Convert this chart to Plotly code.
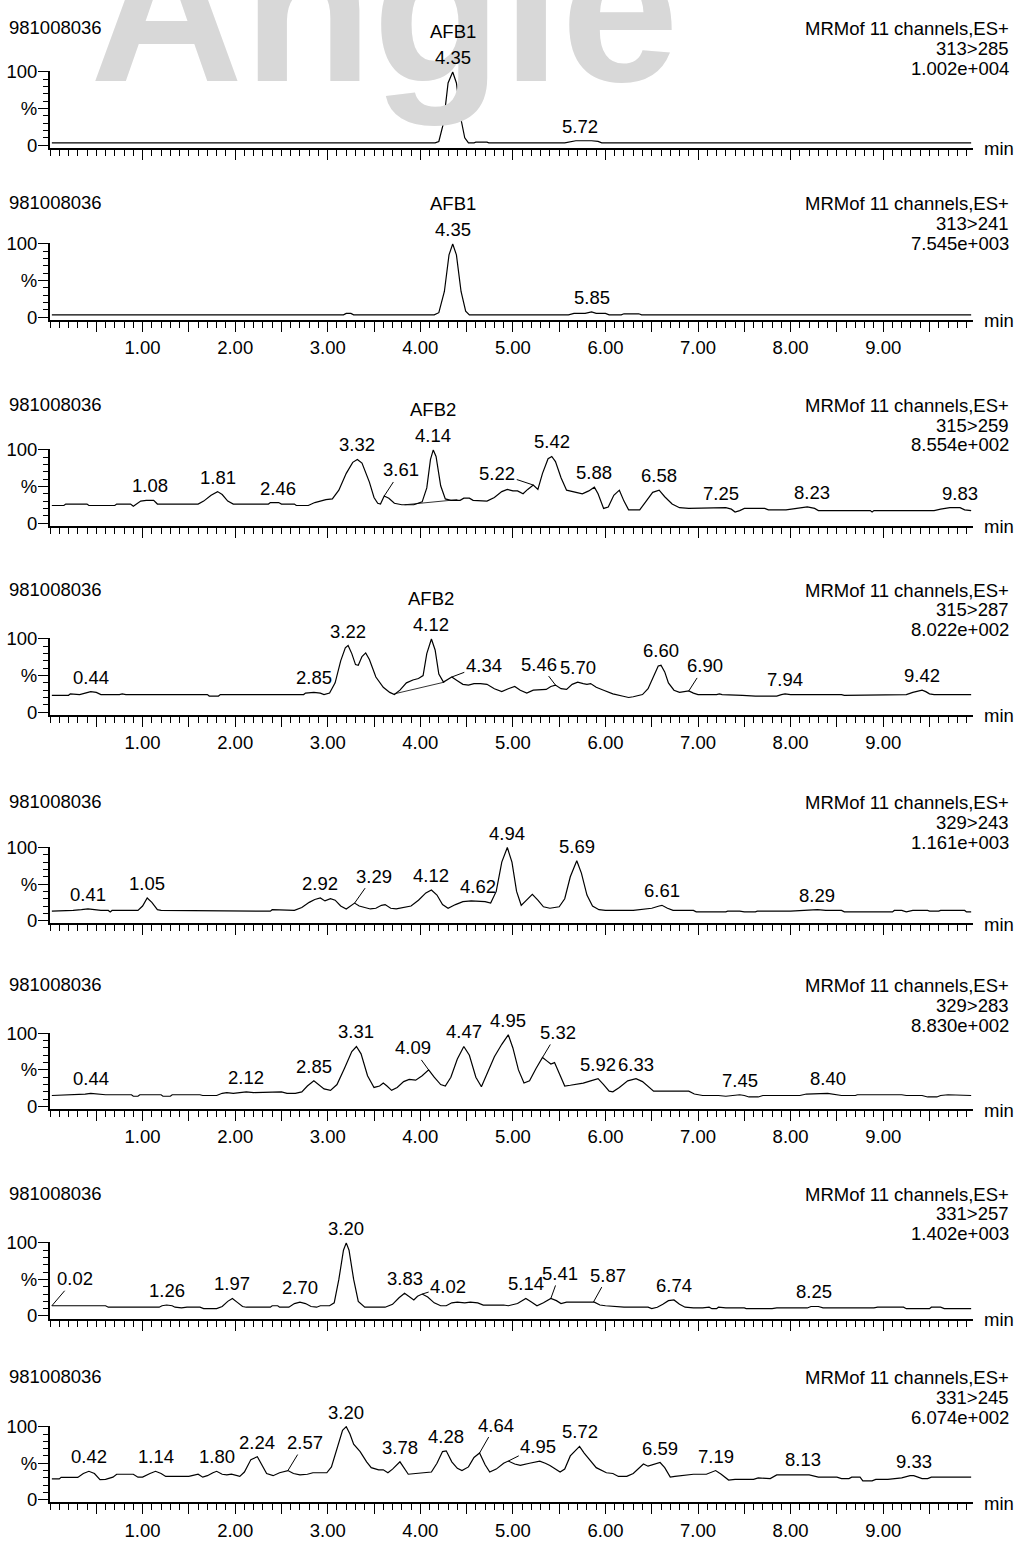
import plotly.graph_objects as go

W, H = 1019, 1543
FONT = "Liberation Sans, Arial, sans-serif"
FS = 18.5

# ---------------- data ----------------
sample_id = "981008036"
scan_desc = "MRMof 11 channels,ES+"
channels = ["313>285", "313>241", "315>259", "315>287",
            "329>243", "329>283", "331>257", "331>245"]
intensities = ["1.002e+004", "7.545e+003", "8.554e+002", "8.022e+002",
               "1.161e+003", "8.830e+002", "1.402e+003", "6.074e+002"]

x_tick_vals = [0.5, 1.0, 1.5, 2.0, 2.5, 3.0, 3.5, 4.0, 4.5, 5.0,
               5.5, 6.0, 6.5, 7.0, 7.5, 8.0, 8.5, 9.0, 9.5]
x_tick_text = ["", "1.00", "", "2.00", "", "3.00", "", "4.00", "", "5.00",
               "", "6.00", "", "7.00", "", "8.00", "", "9.00", ""]
y_tick_vals = [0, 50, 100]
y_tick_text = ["0", "%", "100"]
y_minor_vals = [10, 20, 30, 40, 60, 70, 80, 90]

p1_points = [(0.02, 3), (3.88, 3), (3.9, 4), (3.97, 4), (3.99, 3), (4.16, 3), (4.2, 5),
             (4.25, 30), (4.3, 85), (4.35, 100), (4.39, 85), (4.44, 35), (4.48, 10),
             (4.52, 3), (4.58, 3), (4.6, 4), (4.72, 4), (4.74, 3), (5.56, 3), (5.62, 5),
             (5.68, 6), (5.85, 6), (5.92, 5), (5.96, 3), (9.95, 3)]
p2_points = [(0.02, 3), (3.17, 3), (3.2, 5), (3.25, 5), (3.28, 3), (4.15, 3), (4.2, 6),
             (4.26, 35), (4.31, 85), (4.35, 100), (4.39, 85), (4.44, 35), (4.49, 8),
             (4.53, 3), (5.6, 3), (5.66, 5), (5.78, 5), (5.85, 7), (5.9, 5), (6.0, 5),
             (6.04, 3), (6.17, 3), (6.2, 4.5), (6.36, 4.5), (6.39, 3), (9.95, 3)]
p3_points = [(0.02, 24), (0.15, 24), (0.17, 26), (0.4, 26), (0.42, 24), (0.7, 24), (0.72, 26),
             (0.87, 26), (0.9, 23), (0.93, 26), (0.98, 30), (1.04, 31), (1.12, 31), (1.16, 26),
             (1.6, 26), (1.66, 30), (1.74, 38), (1.81, 43), (1.86, 39), (1.92, 30), (1.98, 26),
             (2.36, 26), (2.38, 28), (2.47, 28), (2.5, 26), (2.64, 26), (2.66, 24), (2.79, 24),
             (2.86, 28), (2.92, 30), (2.98, 32), (3.05, 33), (3.12, 45), (3.2, 68), (3.27, 83),
             (3.32, 87), (3.37, 82), (3.45, 56), (3.5, 35), (3.54, 27), (3.57, 26), (3.61, 37),
             (3.66, 34), (3.72, 27), (3.8, 25), (3.93, 25), (4.02, 29), (4.07, 48), (4.11, 87),
             (4.14, 100), (4.17, 91), (4.22, 51), (4.27, 33), (4.33, 31), (4.43, 31), (4.47, 34),
             (4.53, 34), (4.57, 31), (4.65, 31), (4.72, 30), (4.8, 35), (4.88, 43), (4.94, 46),
             (5.0, 44), (5.05, 44), (5.11, 40), (5.16, 46), (5.22, 52), (5.27, 46), (5.32, 68),
             (5.38, 88), (5.42, 91), (5.46, 84), (5.52, 62), (5.58, 45), (5.65, 43), (5.75, 40),
             (5.82, 44), (5.88, 49), (5.92, 40), (5.98, 20), (6.03, 22), (6.09, 38), (6.15, 45),
             (6.2, 30), (6.25, 18), (6.37, 18), (6.44, 30), (6.51, 42), (6.58, 45), (6.64, 36),
             (6.72, 26), (6.8, 21), (6.9, 20), (7.15, 20), (7.2, 21), (7.3, 21), (7.36, 19),
             (7.4, 15), (7.45, 17), (7.5, 20), (7.72, 20), (7.76, 18), (7.95, 18), (8.05, 20),
             (8.18, 22), (8.26, 20), (8.3, 17), (8.86, 17), (8.88, 15), (8.9, 17), (9.55, 17),
             (9.62, 19), (9.72, 21), (9.83, 21), (9.88, 18), (9.95, 17)]
p3_baseline = [(3.83, 25), (4.40, 32)]
p4_points = [(0.02, 23), (0.2, 23), (0.22, 25), (0.3, 25), (0.32, 24), (0.38, 26), (0.44, 28),
             (0.5, 27), (0.55, 24), (0.75, 24), (0.78, 25), (0.82, 24), (0.95, 24), (0.97, 23),
             (1.08, 23), (1.1, 24), (1.22, 24), (1.24, 23), (1.32, 23), (1.34, 24), (1.7, 24),
             (1.72, 22), (1.82, 22), (1.84, 24), (2.2, 24), (2.22, 25), (2.3, 25), (2.32, 24),
             (2.38, 24), (2.4, 25), (2.48, 25), (2.5, 24), (2.74, 24), (2.76, 26), (2.85, 27),
             (2.92, 26), (2.96, 24), (3.02, 26), (3.08, 40), (3.14, 70), (3.19, 88), (3.22, 91),
             (3.26, 80), (3.3, 65), (3.33, 64), (3.37, 76), (3.41, 81), (3.45, 72), (3.52, 48),
             (3.6, 34), (3.67, 27), (3.72, 24), (3.78, 30), (3.85, 40), (3.92, 44), (3.98, 46),
             (4.03, 50), (4.07, 80), (4.12, 100), (4.16, 85), (4.2, 52), (4.25, 41), (4.3, 45),
             (4.34, 48), (4.4, 43), (4.46, 38), (4.52, 37), (4.58, 39), (4.65, 39), (4.72, 38),
             (4.8, 32), (4.88, 28), (4.95, 32), (5.02, 35), (5.08, 30), (5.15, 26), (5.22, 30),
             (5.3, 31), (5.36, 31), (5.41, 35), (5.46, 37), (5.52, 32), (5.58, 31), (5.64, 38),
             (5.7, 41), (5.76, 39), (5.8, 38), (5.84, 39), (5.9, 34), (5.98, 30), (6.08, 25),
             (6.18, 22), (6.25, 20), (6.3, 21), (6.4, 24), (6.46, 32), (6.52, 50), (6.57, 63),
             (6.6, 64), (6.64, 55), (6.68, 40), (6.74, 30), (6.8, 27), (6.86, 28), (6.9, 29),
             (6.95, 26), (7.0, 24), (7.2, 24), (7.23, 25), (7.26, 24), (7.45, 24), (7.48, 23),
             (7.62, 22), (7.85, 22), (7.9, 24), (7.94, 25), (8.0, 24), (8.18, 24), (8.22, 25),
             (8.28, 25), (8.32, 24), (8.55, 24), (8.58, 23), (8.7, 23), (8.72, 24), (9.25, 24),
             (9.32, 27), (9.38, 29), (9.42, 30), (9.46, 28), (9.5, 25), (9.55, 24), (9.95, 24)]
p4_baseline = [(3.72, 25), (4.26, 41)]
p5_points = [(0.02, 13), (0.2, 13), (0.25, 14), (0.34, 15), (0.41, 16), (0.48, 15), (0.55, 14),
             (0.63, 14), (0.65, 12), (0.67, 14), (0.95, 14), (1.0, 20), (1.05, 31), (1.1, 25),
             (1.16, 15), (1.2, 14), (1.7, 14), (1.72, 13), (2.38, 13), (2.4, 15), (2.5, 15),
             (2.55, 14), (2.64, 14), (2.72, 18), (2.8, 25), (2.86, 29), (2.92, 31), (2.97, 27),
             (3.03, 30), (3.08, 28), (3.14, 20), (3.2, 16), (3.25, 20), (3.29, 24), (3.34, 20),
             (3.4, 18), (3.46, 16), (3.52, 17), (3.58, 21), (3.62, 22), (3.68, 17), (3.74, 16),
             (3.82, 18), (3.9, 20), (3.98, 28), (4.06, 38), (4.12, 42), (4.18, 35), (4.24, 22),
             (4.3, 17), (4.38, 22), (4.46, 26), (4.55, 27), (4.62, 27), (4.7, 26), (4.76, 24),
             (4.82, 40), (4.88, 80), (4.94, 100), (4.99, 80), (5.04, 40), (5.09, 21), (5.15, 28),
             (5.21, 36), (5.27, 28), (5.33, 19), (5.4, 17), (5.5, 19), (5.56, 30), (5.62, 60),
             (5.69, 82), (5.74, 65), (5.8, 35), (5.86, 20), (5.93, 15), (6.0, 14), (6.3, 14),
             (6.4, 15), (6.5, 17), (6.58, 20), (6.61, 21), (6.67, 17), (6.73, 14), (6.95, 14),
             (6.98, 12), (7.3, 12), (7.32, 13), (7.45, 13), (7.5, 12), (7.62, 12), (7.64, 13),
             (8.0, 13), (8.18, 14), (8.29, 15), (8.38, 14), (8.55, 14), (8.58, 12), (9.1, 12),
             (9.12, 14), (9.2, 14), (9.25, 12), (9.32, 14), (9.48, 14), (9.5, 13), (9.6, 13),
             (9.62, 14), (9.88, 14), (9.9, 12), (9.95, 12)]
p6_points = [(0.02, 15), (0.3, 16), (0.38, 17), (0.44, 18), (0.5, 17), (0.6, 16), (0.88, 16),
             (0.9, 14), (0.95, 14), (0.97, 16), (1.2, 16), (1.22, 14), (1.3, 14), (1.32, 16),
             (1.62, 16), (1.65, 15), (1.8, 15), (1.86, 18), (1.91, 19), (1.98, 18), (2.05, 19),
             (2.12, 20), (2.2, 19), (2.3, 19), (2.36, 20), (2.5, 20), (2.56, 18), (2.65, 18),
             (2.72, 20), (2.78, 28), (2.85, 35), (2.9, 30), (2.96, 24), (3.03, 22), (3.1, 30),
             (3.18, 52), (3.26, 75), (3.31, 82), (3.36, 72), (3.43, 42), (3.5, 26), (3.56, 28),
             (3.6, 32), (3.64, 28), (3.69, 22), (3.75, 26), (3.82, 34), (3.88, 37), (3.95, 36),
             (4.02, 42), (4.09, 50), (4.15, 40), (4.22, 30), (4.27, 28), (4.33, 40), (4.4, 65),
             (4.47, 82), (4.53, 70), (4.6, 40), (4.66, 27), (4.72, 45), (4.8, 68), (4.88, 85),
             (4.95, 98), (5.0, 80), (5.06, 50), (5.12, 32), (5.18, 35), (5.25, 52), (5.32, 67),
             (5.37, 62), (5.41, 58), (5.45, 60), (5.5, 45), (5.56, 28), (5.62, 29), (5.68, 30),
             (5.76, 32), (5.84, 35), (5.92, 38), (5.98, 30), (6.04, 21), (6.08, 20), (6.15, 26),
             (6.24, 35), (6.33, 38), (6.4, 34), (6.47, 26), (6.52, 21), (6.9, 21), (6.96, 17),
             (7.05, 15), (7.15, 15), (7.18, 16), (7.22, 15), (7.3, 14), (7.4, 15), (7.45, 16),
             (7.5, 15), (7.55, 13), (7.65, 13), (7.7, 15), (8.1, 15), (8.17, 17), (8.4, 18),
             (8.47, 17), (8.55, 15), (8.7, 15), (8.72, 16), (9.2, 16), (9.25, 15), (9.42, 15),
             (9.48, 13), (9.58, 13), (9.62, 15), (9.7, 16), (9.75, 16), (9.8, 15), (9.95, 15)]
p7_points = [(0.02, 14), (0.6, 14), (0.63, 12), (0.66, 12), (1.18, 12), (1.21, 14), (1.26, 15),
             (1.32, 14), (1.35, 12), (1.42, 11), (1.48, 12), (1.62, 12), (1.66, 10), (1.8, 10),
             (1.86, 13), (1.92, 20), (1.97, 24), (2.02, 19), (2.08, 13), (2.12, 12), (2.38, 12),
             (2.4, 14), (2.46, 14), (2.48, 12), (2.58, 12), (2.64, 17), (2.7, 19), (2.76, 17),
             (2.82, 13), (2.88, 12), (2.92, 14), (3.02, 14), (3.07, 18), (3.12, 50), (3.17, 90),
             (3.2, 100), (3.23, 90), (3.28, 50), (3.33, 20), (3.4, 12), (3.62, 12), (3.7, 16),
             (3.77, 25), (3.83, 31), (3.88, 26), (3.93, 22), (3.97, 27), (4.02, 30), (4.08, 26),
             (4.15, 18), (4.22, 14), (4.28, 14), (4.34, 18), (4.4, 19), (4.48, 18), (4.54, 19),
             (4.62, 18), (4.68, 15), (4.9, 15), (4.95, 14), (5.05, 17), (5.14, 24), (5.2, 19),
             (5.26, 14), (5.33, 18), (5.41, 24), (5.47, 21), (5.52, 17), (5.58, 19), (5.88, 19),
             (5.94, 15), (6.0, 14), (6.2, 12), (6.46, 12), (6.5, 10), (6.56, 12), (6.62, 16),
             (6.68, 21), (6.74, 22), (6.8, 16), (6.86, 12), (6.95, 11), (7.05, 11), (7.12, 12),
             (7.15, 10), (7.2, 10), (7.22, 12), (7.3, 11), (7.5, 11), (7.52, 10), (7.8, 10),
             (7.85, 11), (8.18, 11), (8.22, 13), (8.3, 13), (8.35, 11), (8.9, 11), (8.94, 12),
             (9.22, 12), (9.25, 10), (9.5, 10), (9.52, 12), (9.62, 12), (9.66, 10), (9.95, 10)]
p8_points = [(0.02, 28.6), (0.1, 28.6), (0.12, 30.7), (0.3, 30.7), (0.36, 36), (0.42, 39),
             (0.48, 36), (0.54, 27.5), (0.6, 28), (0.68, 31), (0.72, 35), (0.9, 35), (0.95, 31),
             (1.0, 31), (1.08, 36), (1.14, 39), (1.2, 36), (1.25, 32), (1.5, 32), (1.55, 34),
             (1.6, 35), (1.65, 31), (1.7, 33), (1.76, 37), (1.8, 39), (1.86, 35), (1.91, 34),
             (1.96, 35), (2.05, 32), (2.1, 38), (2.17, 55), (2.24, 59), (2.28, 50), (2.34, 36),
             (2.41, 33), (2.48, 37), (2.57, 40), (2.63, 36), (2.7, 34), (2.78, 35), (2.84, 37),
             (2.99, 37), (3.04, 45), (3.1, 70), (3.16, 95), (3.2, 100), (3.24, 90), (3.28, 76),
             (3.35, 66), (3.42, 52), (3.47, 44), (3.55, 41), (3.6, 41), (3.65, 37), (3.7, 42),
             (3.78, 52), (3.83, 42), (3.87, 35), (3.95, 36), (4.05, 37), (4.12, 38), (4.18, 50),
             (4.24, 66), (4.28, 67), (4.34, 52), (4.4, 43), (4.45, 40), (4.52, 45), (4.58, 58),
             (4.64, 64), (4.7, 48), (4.75, 38), (4.82, 42), (4.9, 50), (4.95, 53), (5.02, 49),
             (5.08, 47), (5.18, 50), (5.29, 53), (5.35, 50), (5.4, 47), (5.51, 38), (5.56, 42),
             (5.62, 60), (5.72, 73), (5.77, 64), (5.82, 56), (5.9, 44), (6.01, 37), (6.08, 36),
             (6.14, 32), (6.23, 32), (6.3, 36), (6.37, 44), (6.41, 49), (6.46, 46), (6.52, 48),
             (6.59, 51), (6.64, 44), (6.7, 31), (6.75, 32), (6.95, 35), (7.09, 35), (7.16, 39),
             (7.19, 40), (7.25, 35), (7.33, 27), (7.4, 28), (7.6, 28), (7.65, 30), (7.72, 30),
             (7.78, 29), (7.85, 34), (8.05, 34), (8.13, 35), (8.2, 34), (8.3, 31), (8.5, 31),
             (8.55, 29), (8.63, 29), (8.66, 31), (8.75, 31), (8.78, 26), (8.88, 26), (8.92, 28),
             (9.05, 28), (9.2, 30), (9.29, 33), (9.33, 33), (9.38, 31), (9.42, 29), (9.48, 29),
             (9.52, 31), (9.95, 31)]

# peak labels: (time, height %, label, leader dx px, leader dy px) ; (0, 0) = plain label above apex
p1_peaks = [(4.35, 100, "4.35", 0, 0), (5.72, 6, "5.72", 0, 0)]
p2_peaks = [(4.35, 100, "4.35", 0, 0), (5.85, 7, "5.85", 0, 0)]
p3_peaks = [(1.08, 31, "1.08", 0, 0), (1.81, 43, "1.81", 0, 0), (2.46, 28, "2.46", 0, 0),
            (3.32, 87, "3.32", 0, 0), (3.61, 37, "3.61", 17, -26), (4.14, 100, "4.14", 0, 0),
            (5.22, 52, "5.22", -36, -12), (5.42, 91, "5.42", 0, 0), (5.88, 49, "5.88", 0, 0),
            (6.58, 45, "6.58", 0, 0), (7.25, 21, "7.25", 0, 0), (8.23, 22, "8.23", 0, 0),
            (9.83, 21, "9.83", 0, 0)]
p4_peaks = [(0.44, 28, "0.44", 0, 0), (2.85, 27, "2.85", 0, 0), (3.22, 91, "3.22", 0, 0),
            (4.12, 100, "4.12", 0, 0), (4.34, 48, "4.34", 32, -12), (5.46, 37, "5.46", -16, -21),
            (5.70, 41, "5.70", 0, 0), (6.60, 64, "6.60", 0, 0), (6.90, 29, "6.90", 16, -25),
            (7.94, 25, "7.94", 0, 0), (9.42, 30, "9.42", 0, 0)]
p5_peaks = [(0.41, 16, "0.41", 0, 0), (1.05, 31, "1.05", 0, 0), (2.92, 31, "2.92", 0, 0),
            (3.29, 24, "3.29", 19, -27), (4.12, 42, "4.12", 0, 0), (4.62, 27, "4.62", 0, 0),
            (4.94, 100, "4.94", 0, 0), (5.69, 82, "5.69", 0, 0), (6.61, 21, "6.61", 0, 0),
            (8.29, 15, "8.29", 0, 0)]
p6_peaks = [(0.44, 18, "0.44", 0, 0), (2.12, 20, "2.12", 0, 0), (2.85, 35, "2.85", 0, 0),
            (3.31, 82, "3.31", 0, 0), (4.09, 50, "4.09", -16, -22), (4.47, 82, "4.47", 0, 0),
            (4.95, 98, "4.95", 0, 0), (5.32, 67, "5.32", 15, -25), (5.92, 38, "5.92", 0, 0),
            (6.33, 38, "6.33", 0, 0), (7.45, 16, "7.45", 0, 0), (8.40, 18, "8.40", 0, 0)]
p7_peaks = [(0.02, 14, "0.02", 23, -27), (1.26, 15, "1.26", 0, 0), (1.97, 24, "1.97", 0, 0),
            (2.70, 19, "2.70", 0, 0), (3.20, 100, "3.20", 0, 0), (3.83, 31, "3.83", 0, 0),
            (4.02, 30, "4.02", 26, -8), (5.14, 24, "5.14", 0, 0), (5.41, 24, "5.41", 9, -25),
            (5.87, 19, "5.87", 15, -27), (6.74, 22, "6.74", 0, 0), (8.25, 13, "8.25", 0, 0)]
p8_peaks = [(0.42, 39, "0.42", 0, 0), (1.14, 39, "1.14", 0, 0), (1.80, 39, "1.80", 0, 0),
            (2.24, 59, "2.24", 0, 0), (2.57, 40, "2.57", 17, -28), (3.20, 100, "3.20", 0, 0),
            (3.78, 52, "3.78", 0, 0), (4.28, 67, "4.28", 0, 0), (4.64, 64, "4.64", 16, -28),
            (4.95, 53, "4.95", 30, -15), (5.72, 73, "5.72", 0, 0), (6.59, 51, "6.59", 0, 0),
            (7.19, 40, "7.19", 0, 0), (8.13, 35, "8.13", 0, 0), (9.33, 33, "9.33", 0, 0)]

# compound names shown above a labelled peak: (panel index, time, height, name)
compound_names = [(0, 4.35, 100, "AFB1"), (1, 4.35, 100, "AFB1"),
                  (2, 4.14, 100, "AFB2"), (3, 4.12, 100, "AFB2")]

watermark_text = "Angie"

all_points = [p1_points, p2_points, p3_points, p4_points,
              p5_points, p6_points, p7_points, p8_points]
all_peaks = [p1_peaks, p2_peaks, p3_peaks, p4_peaks,
             p5_peaks, p6_peaks, p7_peaks, p8_peaks]
baselines = {2: p3_baseline, 3: p4_baseline}

# ---------------- layout geometry ----------------
axis_px = [139.3, 313.3, 521.7, 713.0, 924.0, 1112.0, 1324.0, 1510.0]
header_off = [121.3, 118.3, 122.7, 127.0, 123.0, 126.0, 127.0, 127.0]
show_xlabels = [False, True, False, True, False, True, False, True]
PX_PER_PCT = 0.74
Y_LO, Y_HI = -3.5, 101.0
X_L, X_R = 50.0, 973.0
X_MAX = 9.97

fig = go.Figure()
annotations = []
layout_axes = {}


def py(px):
    return 1.0 - px / H


# watermark (drawn first so that every other text lies on top of it)
annotations.append(dict(xref="paper", yref="paper", x=384 / W, y=py(-124),
                        xanchor="center", yanchor="top", text=watermark_text,
                        showarrow=False,
                        font=dict(family=FONT, size=212, color="#d8d8d8", weight="bold")))

for i in range(8):
    n = i + 1
    sfx = "" if n == 1 else str(n)
    xref, yref = "x" + sfx, "y" + sfx
    bottom = axis_px[i]
    top = bottom - (Y_HI - Y_LO) * PX_PER_PCT

    pts = all_points[i]
    fig.add_trace(go.Scatter(
        x=[p[0] for p in pts], y=[p[1] for p in pts], mode="lines",
        line=dict(color="black", width=1.2), xaxis=xref, yaxis=yref,
        showlegend=False, hoverinfo="skip"))
    if i in baselines:
        b = baselines[i]
        fig.add_trace(go.Scatter(
            x=[p[0] for p in b], y=[p[1] for p in b], mode="lines",
            line=dict(color="black", width=0.8), xaxis=xref, yaxis=yref,
            showlegend=False, hoverinfo="skip"))

    layout_axes["xaxis" + sfx] = dict(
        domain=[X_L / W, X_R / W], range=[0, X_MAX], anchor=yref,
        showline=True, linewidth=2, linecolor="black", mirror=False,
        ticks="outside", ticklen=10, tickwidth=1, tickcolor="black",
        tickmode="array", tickvals=x_tick_vals, ticktext=x_tick_text,
        showticklabels=show_xlabels[i], tickfont=dict(family=FONT, size=FS, color="black"),
        minor=dict(ticks="outside", ticklen=6, tickwidth=1, tickcolor="black",
                   tickmode="linear", tick0=0, dtick=0.1, showgrid=False),
        showgrid=False, zeroline=False, fixedrange=True)
    layout_axes["yaxis" + sfx] = dict(
        domain=[py(bottom), py(top)], range=[Y_LO, Y_HI], anchor=xref,
        showline=True, linewidth=2, linecolor="black",
        ticks="outside", ticklen=10, tickwidth=1, tickcolor="black",
        tickmode="array", tickvals=y_tick_vals, ticktext=y_tick_text,
        tickfont=dict(family=FONT, size=FS, color="black"), ticklabelstandoff=-3,
        minor=dict(ticks="outside", ticklen=5, tickwidth=1, tickcolor="black",
                   tickmode="array", tickvals=y_minor_vals, showgrid=False),
        showgrid=False, zeroline=False, fixedrange=True)

    tf = dict(family=FONT, size=FS, color="black")
    # headers
    hy = bottom - header_off[i]
    annotations.append(dict(xref="paper", yref="paper", x=7 / W, y=py(hy),
                            xanchor="left", yanchor="middle", text=sample_id,
                            showarrow=False, font=tf))
    for k, txt in enumerate([scan_desc, channels[i], intensities[i]]):
        annotations.append(dict(xref="paper", yref="paper", x=1011 / W,
                                y=py(hy + 1 + 20 * k),
                                xanchor="right", yanchor="middle", text=txt,
                                showarrow=False, font=tf))
    annotations.append(dict(xref="paper", yref="paper", x=982 / W, y=py(bottom + 1),
                            xanchor="left", yanchor="middle", text="min",
                            showarrow=False, font=tf))
    # peak labels
    for (t, h, txt, dx, dy) in all_peaks[i]:
        if dx == 0 and dy == 0:
            annotations.append(dict(xref=xref, yref=yref, x=t, y=h, text=txt,
                                    showarrow=False, yanchor="bottom", yshift=2,
                                    font=tf))
        else:
            annotations.append(dict(xref=xref, yref=yref, x=t, y=h, text=txt,
                                    showarrow=True, arrowhead=0, arrowwidth=1,
                                    arrowcolor="black", ax=dx, ay=dy, standoff=0,
                                    font=tf))

for (pi, t, h, name) in compound_names:
    sfx = "" if pi == 0 else str(pi + 1)
    annotations.append(dict(xref="x" + sfx, yref="y" + sfx, x=t, y=h, text=name,
                            showarrow=False, yanchor="bottom", yshift=28,
                            font=dict(family=FONT, size=FS, color="black")))

fig.update_layout(
    width=W, height=H, margin=dict(l=0, r=0, t=0, b=0, pad=0),
    paper_bgcolor="white", plot_bgcolor="white", showlegend=False,
    annotations=annotations, **layout_axes)

fig.write_html("out.html", config={"displayModeBar": False},
               post_script="document.body.style.margin='0';document.body.style.overflow='hidden';")
